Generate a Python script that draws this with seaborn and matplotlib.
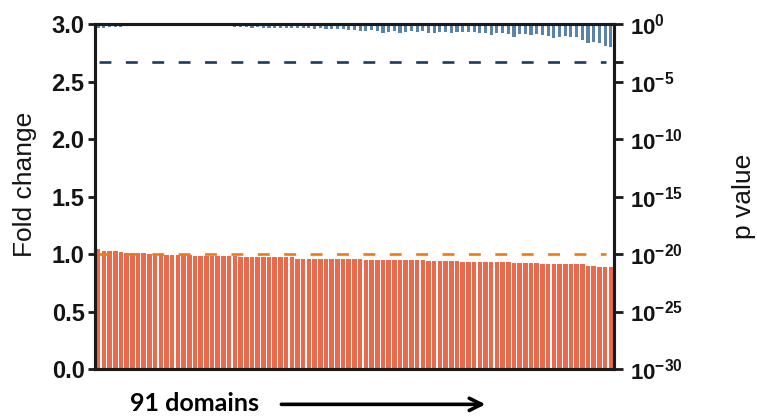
import numpy as np
import pandas as pd
import matplotlib
matplotlib.use("Agg")
import matplotlib.pyplot as plt
import seaborn as sns

# Fold change for each of the 91 domains (left axis)
fold_change = [
    1.04, 1.03, 1.03, 1.03,
    1.02, 1.01, 1.01, 1.01, 1.01, 1.00,
    1.00, 1.00, 0.99, 0.99, 0.99, 0.99, 0.99, 0.98, 0.98, 0.98,
    0.98, 0.98, 0.98, 0.98, 0.98, 0.97, 0.97, 0.97, 0.97, 0.97,
    0.97, 0.97, 0.97, 0.97, 0.97, 0.96, 0.96, 0.96, 0.96, 0.96,
    0.96, 0.96, 0.96, 0.955, 0.955, 0.955, 0.955, 0.95, 0.95, 0.95,
    0.95, 0.95, 0.95, 0.95, 0.945, 0.945, 0.945, 0.945, 0.94, 0.94,
    0.94, 0.94, 0.94, 0.94, 0.935, 0.935, 0.935, 0.935, 0.93, 0.93,
    0.93, 0.93, 0.93, 0.925, 0.925, 0.925, 0.92, 0.92, 0.915, 0.915,
    0.915, 0.915, 0.915, 0.915, 0.915, 0.915, 0.90, 0.895, 0.89, 0.89, 0.89,
]

# p value for each domain (right axis, log scale), stored as decimal exponents
p_exponent = [
    -0.35, -0.30, -0.28, -0.25, -0.22,
    -0.05, -0.04, -0.03, -0.03, -0.02, -0.02, -0.02, -0.02, -0.02, -0.02,
    -0.03, -0.03, -0.03, -0.04,
    -0.15, -0.12, -0.05, -0.15, -0.10,
    -0.25, -0.22, -0.28, -0.30, -0.25, -0.30, -0.32, -0.30, -0.35, -0.32,
    -0.35, -0.38, -0.35, -0.38, -0.40, -0.38, -0.42, -0.45, -0.42, -0.45,
    -0.52, -0.52, -0.58, -0.58, -0.52, -0.58, -0.75, -0.67, -0.58, -0.81,
    -0.67, -0.58, -0.67, -0.58, -0.75, -0.75, -0.67, -0.67, -0.75, -0.67,
    -0.67, -0.67, -0.67, -0.75, -0.81,
    -0.96, -0.81, -0.75, -0.87, -1.10, -0.87, -0.87, -0.96, -0.87, -0.96,
    -1.04, -1.25, -1.16, -1.04, -1.10, -1.16, -1.39, -1.68, -1.54, -1.62,
    -1.91, -1.97,
]
p_values = [10.0 ** e for e in p_exponent]

n_domains = len(fold_change)
alpha = 0.05
p_threshold = alpha / n_domains          # Bonferroni-corrected threshold
fold_reference = 1.0

right_tick_exponents = [0, -5, -10, -15, -20, -25, -30]

df = pd.DataFrame({
    "domain": np.arange(n_domains),
    "fold": fold_change,
    "neglogp": -np.log10(p_values),
})

sns.set_style("ticks")
plt.rcParams["font.family"] = ["Liberation Sans", "DejaVu Sans"]
plt.rcParams["mathtext.fontset"] = "custom"
plt.rcParams["mathtext.rm"] = "Liberation Sans:bold"
plt.rcParams["mathtext.bf"] = "Liberation Sans:bold"
plt.rcParams["mathtext.it"] = "Liberation Sans:bold"
ink = "#141414"
plt.rcParams["text.color"] = ink
plt.rcParams["axes.labelcolor"] = ink
plt.rcParams["ytick.labelcolor"] = ink

orange = "#EA6A4D"
orange_line = "#EE7A16"
blue = "#5B83A6"
blue_line = "#1E3A5F"

fig = plt.figure(figsize=(7.57, 4.16), dpi=100)
ax = fig.add_axes([0.1255, 0.113, 0.6855, 0.829])

sns.barplot(data=df, x="domain", y="fold", ax=ax, color=orange,
            saturation=1, width=0.8, linewidth=0, errorbar=None)
ax.axhline(fold_reference, color=orange_line, lw=1.9, dashes=(4.5, 5.5),
           xmin=0.008, xmax=0.985, zorder=5)

ax2 = ax.twinx()
sns.barplot(data=df, x="domain", y="neglogp", ax=ax2, color=blue,
            saturation=1, width=0.55, linewidth=0, errorbar=None)
ax2.axhline(-np.log10(p_threshold), color=blue_line, lw=1.9,
            dashes=(4.5, 5.5), xmin=0.008, xmax=0.985, zorder=5)

ax.set_xlim(-0.55, n_domains - 0.45)
ax2.set_xlim(-0.55, n_domains - 0.45)
ax.set_ylim(0, 3.0)
ax.set_yticks(np.arange(0, 3.01, 0.5))
ax.set_yticklabels([f"{v:.1f}" for v in np.arange(0, 3.01, 0.5)])

ax2.set_ylim(30, 0)
ticks2 = [-e for e in right_tick_exponents] + [-np.log10(p_threshold)]
labels2 = [rf"$10^{{{e}}}$" for e in right_tick_exponents] + [""]
ax2.set_yticks(ticks2)
ax2.set_yticklabels(labels2)

ax.set_xticks([])
ax2.set_xticks([])
ax.set_xlabel("")
ax2.set_xlabel("")

for a in (ax, ax2):
    for s in a.spines.values():
        s.set_visible(True)
        s.set_linewidth(2.2)
        s.set_color("#1a1a1a")
ax.tick_params(axis="y", length=5, width=2, color="#1a1a1a", pad=2.5,
               labelsize=17, labelcolor=ink)
ax2.tick_params(axis="y", length=6.5, width=2, color="#1a1a1a", pad=5,
                labelsize=16, labelcolor=ink)
for lab in ax.get_yticklabels():
    lab.set_fontweight("bold")

ax.set_ylabel("Fold change", fontsize=19, color=ink)
ax.yaxis.set_label_coords(-0.111, 0.535)
ax2.set_ylabel("p value", fontsize=19, rotation=90, color=ink)
ax2.yaxis.set_label_coords(1.227, 0.5)

fig.text(0.172, 0.002, "91 domains", fontsize=18, fontweight="bold",
         family=["Lato", "DejaVu Sans"], ha="left", va="bottom", color="black")
ax.annotate("", xy=(0.645, 0.028), xytext=(0.368, 0.028),
            xycoords="figure fraction", textcoords="figure fraction",
            arrowprops=dict(arrowstyle="->", lw=2.6, color="black",
                            mutation_scale=22))

fig.savefig("out.png", dpi=100)
